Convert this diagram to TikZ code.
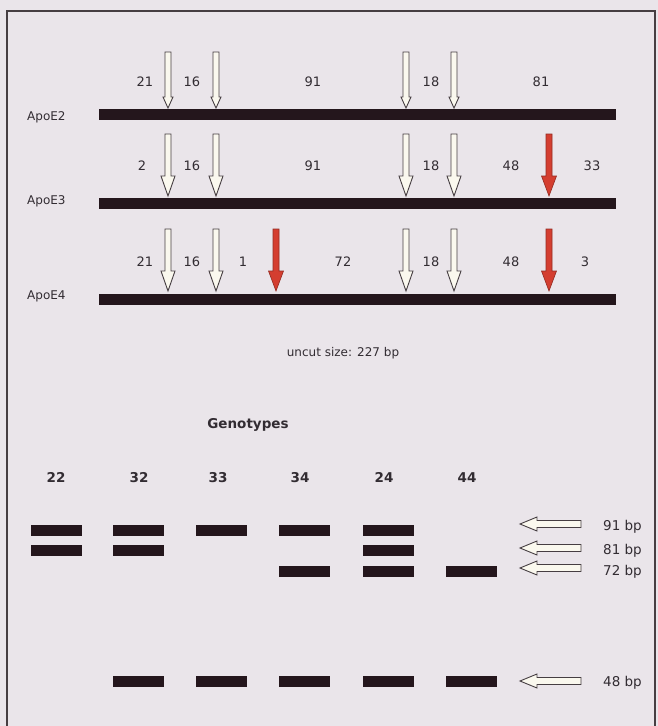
\documentclass[tikz,border=0pt]{standalone}
\usepackage{fontspec}
\setmainfont{DejaVu Sans}
\usetikzlibrary{positioning}
\definecolor{bgcol}{RGB}{234,229,234}
\definecolor{inkcol}{RGB}{36,22,28}
\definecolor{framecol}{RGB}{70,62,66}
\definecolor{cutred}{RGB}{212,62,48}
\definecolor{opencol}{RGB}{250,248,238}
\definecolor{txtcol}{RGB}{50,44,50}

\tikzset{
  dna/.style={fill=inkcol, inner sep=0pt, minimum width=517pt, minimum height=11pt},
  band/.style={fill=inkcol, inner sep=0pt, minimum width=51pt, minimum height=11pt},
  frag/.style={font=\fontsize{13}{15}\selectfont, text=txtcol, inner sep=1pt, text height=9.5pt, text depth=0pt},
  allele/.style={font=\fontsize{12}{14}\selectfont, text=txtcol, inner sep=1pt, anchor=west},
  sizelbl/.style={font=\fontsize{13.5}{15}\selectfont, text=txtcol, inner sep=1pt, anchor=west},
  lane/.style={font=\bfseries\fontsize{13.5}{15}\selectfont, text=txtcol, inner sep=1pt, text height=10pt, text depth=0pt},
  opencut/.style={draw=framecol, fill=opencol, line width=0.9pt, line join=miter},
  redcut/.style={draw=cutred!70!black, fill=cutred, line width=0.6pt, line join=miter},
  pointer/.style={draw=framecol, fill=opencol, line width=0.9pt, line join=miter}
}

% down arrow: x, top, tip, head length, head half-width, style
\newcommand{\cutsite}[6]{%
  \draw[#6] (#1-3,#2) -- (#1+3,#2) -- (#1+3,#3-#4) -- (#1+#5,#3-#4) -- (#1,#3)
    -- (#1-#5,#3-#4) -- (#1-3,#3-#4) -- cycle;}
% left arrow pointing at a band: y
\newcommand{\sizemark}[1]{%
  \draw[pointer] (520,#1) -- (537,#1-7) -- (537,#1-3.5) -- (581,#1-3.5) -- (581,#1+3.5)
    -- (537,#1+3.5) -- (537,#1+7) -- cycle;}

\begin{document}
\begin{tikzpicture}[x=1pt, y=-1pt]
		\fill[bgcol] (0,0) rectangle (658,726);
		\useasboundingbox (0,0) rectangle (658,726);
		\draw[framecol, line width=1.2pt] (7,726) -- (7,11) -- (655,11) -- (655,726);
		
		%------------------------------------------------
		% Alleles
		%------------------------------------------------
		\node[allele] (e2) at (26,117) {ApoE2};
		\node[allele] (e3) at (26,201) {ApoE3};
		\node[allele] (e4) at (26,296) {ApoE4};
		
		\node[dna] (d2) at (357.5,114) {};
		\node[dna] (d3) at (357.5,203.5) {};
		\node[dna] (d4) at (357.5,299) {};
		
		%------------------------------------------------
		% Cut sites
		%------------------------------------------------
		\cutsite{168}{52}{108}{11}{5}{opencut}
		\cutsite{216}{52}{108}{11}{5}{opencut}
		\cutsite{406}{52}{108}{11}{5}{opencut}
		\cutsite{454}{52}{108}{11}{5}{opencut}
		
		\cutsite{168}{134}{196}{20}{7}{opencut}
		\cutsite{216}{134}{196}{20}{7}{opencut}
		\cutsite{406}{134}{196}{20}{7}{opencut}
		\cutsite{454}{134}{196}{20}{7}{opencut}
		\cutsite{549}{134}{196}{20}{7.5}{redcut}
		
		\cutsite{168}{229}{291}{20}{7}{opencut}
		\cutsite{216}{229}{291}{20}{7}{opencut}
		\cutsite{276}{229}{291}{20}{7.5}{redcut}
		\cutsite{406}{229}{291}{20}{7}{opencut}
		\cutsite{454}{229}{291}{20}{7}{opencut}
		\cutsite{549}{229}{291}{20}{7.5}{redcut}
		
		%------------------------------------------------
		% Fragment sizes
		%------------------------------------------------
		\node[frag] (a21) at (145,82) {21};
		\node[frag] (a16) at (192,82) {16};
		\node[frag] (a91) at (313,82) {91};
		\node[frag] (a18) at (431,82) {18};
		\node[frag] (a81) at (541,82) {81};
		
		\node[frag] (b2)  at (142,166) {2};
		\node[frag] (b16) at (192,166) {16};
		\node[frag] (b91) at (313,166) {91};
		\node[frag] (b18) at (431,166) {18};
		\node[frag] (b48) at (511,166) {48};
		\node[frag] (b33) at (592,166) {33};
		
		\node[frag] (c21) at (145,262) {21};
		\node[frag] (c16) at (192,262) {16};
		\node[frag] (c1)  at (243,262) {1};
		\node[frag] (c72) at (343,262) {72};
		\node[frag] (c18) at (431,262) {18};
		\node[frag] (c48) at (511,262) {48};
		\node[frag] (c3)  at (585,262) {3};
		
		\node[allele, anchor=center] (uncut) at (343,353) {uncut size: 227 bp};
		
		%------------------------------------------------
		% Gel
		%------------------------------------------------
		\node[lane] (geno) at (248,423) {Genotypes};
		
		\node[lane] (g22) at (56,477) {22};
		\node[lane] (g32) at (139,477) {32};
		\node[lane] (g33) at (218,477) {33};
		\node[lane] (g34) at (300,477) {34};
		\node[lane] (g24) at (384,477) {24};
		\node[lane] (g44) at (467,477) {44};
		
		\node[band] at (56.5,530.5) {};
		\node[band] at (56.5,550.5) {};
		\node[band] at (138,530.5) {};
		\node[band] at (138,550.5) {};
		\node[band] at (138,681) {};
		\node[band] at (221,530.5) {};
		\node[band] at (221,681) {};
		\node[band] at (304,530.5) {};
		\node[band] at (304,571) {};
		\node[band] at (304,681) {};
		\node[band] at (388,530.5) {};
		\node[band] at (388,550.5) {};
		\node[band] at (388,571) {};
		\node[band] at (388,681) {};
		\node[band] at (471,571) {};
		\node[band] at (471,681) {};
		
		\sizemark{524}
		\sizemark{548}
		\sizemark{568}
		\sizemark{681}
		
		\node[sizelbl] (s91) at (602,527) {91 bp};
		\node[sizelbl] (s81) at (602,551) {81 bp};
		\node[sizelbl] (s72) at (602,572) {72 bp};
		\node[sizelbl] (s48) at (602,683) {48 bp};
	\end{tikzpicture}
\end{document}
